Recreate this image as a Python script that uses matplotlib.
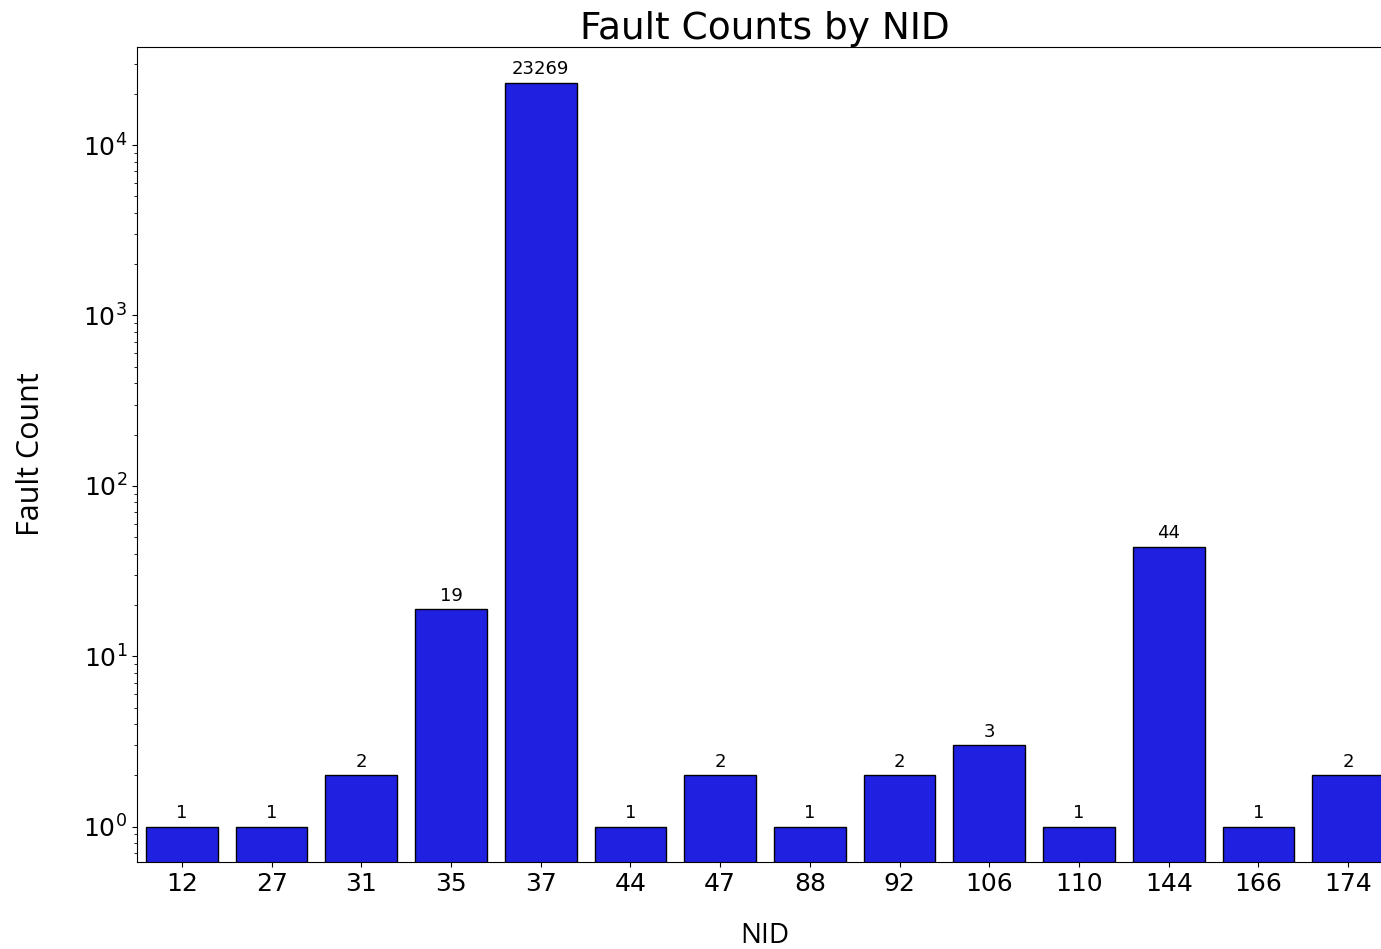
import matplotlib
matplotlib.use("Agg")
import matplotlib.pyplot as plt
import numpy as np

nids = ["12", "27", "31", "35", "37", "44", "47", "88", "92", "106", "110", "144", "166", "174"]
counts = [1, 1, 2, 19, 23269, 1, 2, 1, 2, 3, 1, 44, 1, 2]

W, H = 1381, 949
fig = plt.figure(figsize=(W / 100, H / 100), dpi=100)
ax = fig.add_axes([137 / W, (H - 862) / H, (1393 - 137) / W, (862 - 47) / H])

x = np.arange(len(nids))
bars = ax.bar(x, counts, width=0.8, color="#2020e0", edgecolor="black", linewidth=1.0)
ax.set_yscale("log")
ax.set_xlim(-0.5, len(nids) - 0.5)
ax.set_ylim(0.62, 37600)
ax.set_xticks(x)
ax.set_xticklabels(nids)
ax.tick_params(axis="both", labelsize=18)

for xi, c in zip(x, counts):
    ax.annotate(str(c), (xi, c), xytext=(0, 3), textcoords="offset points",
                ha="center", va="bottom", fontsize=13)

ax.set_title("Fault Counts by NID", fontsize=27, pad=3)
ax.set_xlabel("NID", fontsize=20, family="Open Sans", labelpad=19)
ax.set_ylabel("Fault Count", fontsize=22, family="Open Sans", labelpad=27)

fig.savefig("out.png", dpi=100)
